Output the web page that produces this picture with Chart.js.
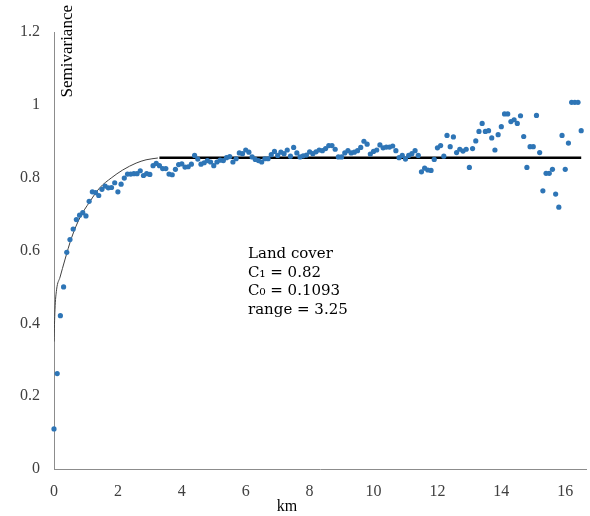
<!DOCTYPE html>
<html>
<head>
<meta charset="utf-8">
<script src="https://cdn.jsdelivr.net/npm/chart.js@4/dist/chart.umd.min.js"></script>
<style>
  html, body { margin: 0; padding: 0; background: #fff; }
  #wrap { width: 590px; height: 516px; }
</style>
</head>
<body>
<div id="wrap"><canvas id="myChart" width="590" height="516"></canvas></div>
<script>
// lag distances (km)
var lags = [
  0, 0.1, 0.2, 0.3, 0.4, 0.5, 0.6, 0.7, 0.8, 0.9,
  1, 1.1, 1.2, 1.3, 1.4, 1.5, 1.6, 1.7, 1.8, 1.9,
  2, 2.1, 2.2, 2.3, 2.4, 2.5, 2.6, 2.7, 2.8, 2.9,
  3, 3.1, 3.2, 3.3, 3.4, 3.5, 3.6, 3.7, 3.8, 3.9,
  4, 4.1, 4.2, 4.3, 4.4, 4.5, 4.6, 4.7, 4.8, 4.9,
  5, 5.1, 5.2, 5.3, 5.4, 5.5, 5.6, 5.7, 5.8, 5.9,
  6, 6.1, 6.2, 6.3, 6.4, 6.5, 6.6, 6.7, 6.8, 6.9,
  7, 7.1, 7.2, 7.3, 7.4, 7.5, 7.6, 7.7, 7.8, 7.9,
  8, 8.1, 8.2, 8.3, 8.4, 8.5, 8.6, 8.7, 8.8, 8.9,
  9, 9.1, 9.2, 9.3, 9.4, 9.5, 9.6, 9.7, 9.8, 9.9,
  10, 10.1, 10.2, 10.3, 10.4, 10.5, 10.6, 10.7, 10.8, 10.9,
  11, 11.1, 11.2, 11.3, 11.4, 11.5, 11.6, 11.7, 11.8, 11.9,
  12, 12.1, 12.2, 12.3, 12.4, 12.5, 12.6, 12.7, 12.8, 12.9,
  13, 13.1, 13.2, 13.3, 13.4, 13.5, 13.6, 13.7, 13.8, 13.9,
  14, 14.1, 14.2, 14.3, 14.4, 14.5, 14.6, 14.7, 14.8, 14.9,
  15, 15.1, 15.2, 15.3, 15.4, 15.5, 15.6, 15.7, 15.8, 15.9,
  16, 16.1, 16.2, 16.3, 16.4, 16.5
];

// empirical semivariance
var semivariance = [
  0.110, 0.262, 0.421, 0.500, 0.595, 0.630, 0.659, 0.685, 0.697, 0.704,
  0.695, 0.735, 0.761, 0.759, 0.751, 0.768, 0.777, 0.772, 0.773, 0.786,
  0.761, 0.782, 0.799, 0.810, 0.810, 0.811, 0.811, 0.819, 0.806, 0.811,
  0.809, 0.833, 0.839, 0.833, 0.825, 0.825, 0.810, 0.808, 0.823, 0.836,
  0.838, 0.829, 0.830, 0.837, 0.861, 0.851, 0.837, 0.841, 0.847, 0.843,
  0.833, 0.843, 0.848, 0.847, 0.855, 0.858, 0.843, 0.852, 0.868, 0.866,
  0.876, 0.870, 0.857, 0.850, 0.847, 0.843, 0.852, 0.852, 0.863, 0.872,
  0.861, 0.870, 0.866, 0.876, 0.859, 0.883, 0.868, 0.857, 0.860, 0.862,
  0.871, 0.866, 0.871, 0.876, 0.874, 0.880, 0.888, 0.888, 0.878, 0.857,
  0.857, 0.868, 0.874, 0.868, 0.870, 0.874, 0.883, 0.900, 0.892, 0.865,
  0.872, 0.876, 0.890, 0.882, 0.884, 0.884, 0.887, 0.874, 0.855, 0.861,
  0.851, 0.861, 0.866, 0.874, 0.861, 0.816, 0.826, 0.821, 0.820, 0.850,
  0.882, 0.888, 0.859, 0.916, 0.885, 0.912, 0.869, 0.878, 0.873, 0.878,
  0.828, 0.880, 0.901, 0.927, 0.949, 0.927, 0.929, 0.909, 0.876, 0.918,
  0.940, 0.975, 0.975, 0.954, 0.959, 0.949, 0.970, 0.913, 0.828, 0.885,
  0.885, 0.971, 0.869, 0.764, 0.812, 0.812, 0.823, 0.755, 0.719, 0.916,
  0.823, 0.895, 1.007, 1.007, 1.007, 0.929
];

// fitted model curve
var modelX = [0, 0.03, 0.08, 0.19, 0.34, 0.55, 0.81, 1.12, 1.43, 1.79, 2.15, 2.57, 2.88, 3.25];
var modelY = [0.35, 0.437, 0.492, 0.527, 0.574, 0.635, 0.690, 0.734, 0.772, 0.799, 0.821, 0.840, 0.849, 0.854];

// sill line
var sillX = [3.3, 16.5];
var sillY = [0.855, 0.855];

var yTicks = [0, 0.2, 0.4, 0.6, 0.8, 1, 1.2];
var yTickLabels = ['0', '0.2', '0.4', '0.6', '0.8', '1', '1.2'];
var noteLines = ['Land cover', 'C\u2081 = 0.82', 'C\u2080 = 0.1093', 'range = 3.25'];

function pairs(xs, ys) {
  return xs.map((x, i) => ({ x: x, y: ys[i] }));
}

var textPlugin = {
  id: 'texts',
  afterDraw: function (chart) {
    var c = chart.ctx;
    var area = chart.chartArea;
    c.save();
    // y title sits inside the plot
    c.fillStyle = '#000';
    c.font = '17px "Liberation Serif", serif';
    c.translate(area.left + 14, 5);
    c.rotate(-Math.PI / 2);
    c.textAlign = 'right';
    c.textBaseline = 'middle';
    c.fillText('Semivariance', 0, 0);
    c.restore();

    c.save();
    c.fillStyle = '#000';
    c.font = '16px "Liberation Serif", serif';
    c.textAlign = 'center';
    c.textBaseline = 'middle';
    c.fillText('km', 287, 507);

    c.font = '15px "DejaVu Serif", serif';
    c.textAlign = 'left';
    noteLines.forEach(function (t, i) {
      c.fillText(t, 248, 254 + i * 18.7);
    });
    c.restore();
  }
};

var ctx = document.getElementById('myChart').getContext('2d');
var myChart = new Chart(ctx, {
  type: 'scatter',
  data: {
    datasets: [{
      label: 'Semivariance',
      data: pairs(lags, semivariance),
      backgroundColor: '#2E75B6',
      borderWidth: 0,
      pointRadius: 2.6,
      showLine: false,
      clip: false
    }, {
      label: 'Model',
      data: pairs(modelX, modelY),
      showLine: true,
      borderColor: '#404040',
      borderWidth: 1,
      pointRadius: 0,
      cubicInterpolationMode: 'monotone'
    }, {
      label: 'Sill',
      data: pairs(sillX, sillY),
      showLine: true,
      borderColor: '#000',
      borderWidth: 2.5,
      pointRadius: 0
    }]
  },
  options: {
    responsive: false,
    animation: false,
    layout: { padding: { top: 32, right: 0, left: 0, bottom: 0 } },
    plugins: {
      legend: { display: false },
      tooltip: { enabled: false }
    },
    scales: {
      x: {
        type: 'linear',
        min: 0,
        max: 16.65,
        grid: { display: false },
        border: { display: true, color: '#8c8c8c', width: 1 },
        ticks: {
          stepSize: 2,
          includeBounds: false,
          padding: 5,
          maxRotation: 0,
          color: '#404040',
          font: { family: '"Liberation Serif", serif', size: 16 }
        },
        afterFit: function (scale) { scale.height = 47; }
      },
      y: {
        min: 0,
        max: 1.2,
        grid: { display: false },
        border: { display: true, color: '#8c8c8c', width: 1 },
        afterBuildTicks: function (scale) {
          scale.ticks = yTicks.map(v => ({ value: v }));
        },
        ticks: {
          padding: 6,
          color: '#404040',
          font: { family: '"Liberation Serif", serif', size: 16 },
          callback: function (value, i) { return yTickLabels[i]; }
        },
        afterFit: function (scale) { scale.width = 54; }
      }
    }
  },
  plugins: [textPlugin]
});
</script>
</body>
</html>
